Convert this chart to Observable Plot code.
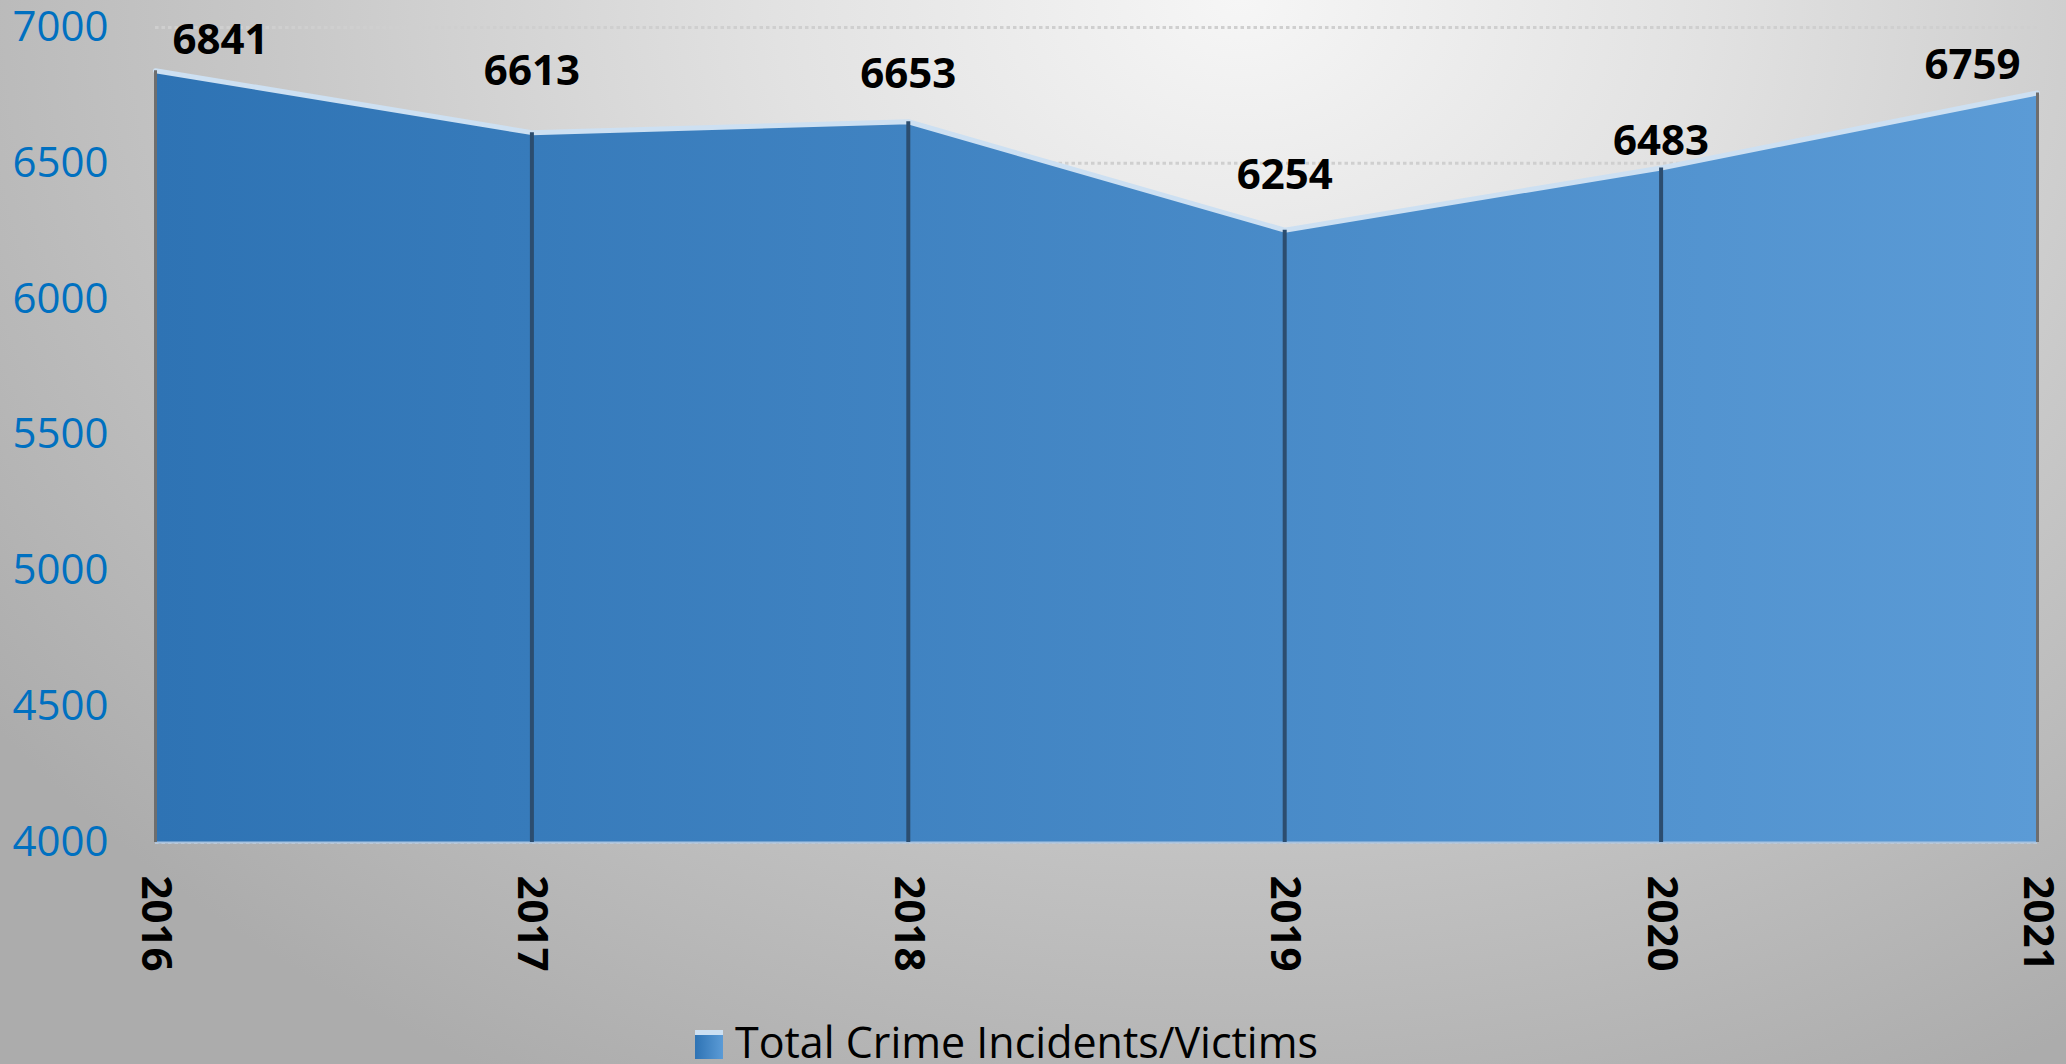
<!DOCTYPE html>
<html>
<head>
<meta charset="utf-8">
<script src="https://cdn.jsdelivr.net/npm/d3@7"></script>
<script src="https://cdn.jsdelivr.net/npm/@observablehq/plot@0.6"></script>
<style>
  html, body { margin: 0; padding: 0; overflow: hidden; }
  body {
    width: 2066px; height: 1064px; position: relative;
    background: radial-gradient(ellipse 75% 115% at 60% 0%, #f6f6f6 0%, #e2e2e2 30%, #c8c8c8 62%, #acacac 100%);
    font-family: "Open Sans", sans-serif;
  }
  #chart { position: absolute; left: 0; top: 0; }
  #legend { position: absolute; left: 0; top: 990px; }
</style>
</head>
<body>
<div id="chart"></div>
<svg id="legend" width="2066" height="74"></svg>
<script>
// ---- data ----
const years = [2016, 2017, 2018, 2019, 2020, 2021];
const incidents = [6841, 6613, 6653, 6254, 6483, 6759];
const yTicks = [4000, 4500, 5000, 5500, 6000, 6500, 7000];
const seriesName = "Total Crime Incidents/Victims";
// label lift above each point (px), as placed in the reference
const labelLift = [30, 61, 47, 55, 26, 27];

const data = years.map((year, i) => ({year, value: incidents[i], i}));

const defs = () => {
  const g = d3.create("svg:defs");
  const lg = g.append("linearGradient").attr("id", "areaGrad")
    .attr("x1", "0").attr("x2", "1").attr("y1", "0").attr("y2", "0");
  lg.append("stop").attr("offset", "0%").attr("stop-color", "#2E73B4");
  lg.append("stop").attr("offset", "100%").attr("stop-color", "#5B9BD6");
  return g.node();
};

const labelMarks = data.map((d, i) => Plot.text([d], {
  x: "year", y: "value", text: (d) => String(d.value),
  dy: -labelLift[i],
  dx: i === 0 ? 17 : i === data.length - 1 ? -17 : 0,
  textAnchor: i === 0 ? "start" : i === data.length - 1 ? "end" : "middle",
  fontSize: 42, fontWeight: "bold", fill: "#000",
  fontFamily: "Open Sans"
}));

const chart = Plot.plot({
  width: 2066,
  height: 1000,
  marginLeft: 155,
  marginRight: 29,
  marginTop: 27,
  marginBottom: 158,
  style: {background: "transparent", overflow: "visible", fontFamily: "Open Sans"},
  x: {type: "linear", domain: [2016, 2021]},
  y: {domain: [4000, 7000]},
  marks: [
    defs,
    Plot.ruleY(yTicks, {stroke: "#cfcfcf", strokeWidth: 3, strokeDasharray: "3.5,3"}),
    Plot.areaY(data, {x: "year", y1: 4000, y2: "value", fill: "url(#areaGrad)"}),
    Plot.ruleY([4000], {stroke: "#a9c3df", strokeWidth: 2}),
    Plot.line(data, {x: "year", y: "value", stroke: "#cde0f2", strokeWidth: 5}),
    Plot.ruleX(data, {
      x: "year", y1: 4000, y2: "value",
      stroke: (d) => (d.i === 0 || d.i === data.length - 1) ? "#6e6e6e" : "#2c4d6f",
      strokeWidth: (d) => (d.i === 0 || d.i === data.length - 1) ? 3 : 4
    }),
    Plot.axisY({
      ticks: yTicks, tickFormat: "d", tickSize: 0, tickPadding: 47,
      fontSize: 42, fill: "#0070C0", fontFamily: "Open Sans", label: null
    }),
    Plot.axisX({
      ticks: years, tickFormat: "d", tickSize: 0, tickPadding: 33, tickRotate: 90,
      fontSize: 42, fontWeight: "bold", fill: "#000", fontFamily: "Open Sans", label: null
    }),
    ...labelMarks
  ]
});
document.getElementById("chart").appendChild(chart);

// ---- legend ----
const leg = d3.select("#legend");
const lgd = leg.append("defs");
const sg = lgd.append("linearGradient").attr("id", "swatchGrad")
  .attr("x1", "0").attr("x2", "1").attr("y1", "0").attr("y2", "0");
sg.append("stop").attr("offset", "0%").attr("stop-color", "#2E73B4");
sg.append("stop").attr("offset", "100%").attr("stop-color", "#5B9BD6");
leg.append("rect").attr("x", 695).attr("y", 40).attr("width", 28).attr("height", 29)
  .attr("fill", "url(#swatchGrad)");
leg.append("rect").attr("x", 695).attr("y", 40).attr("width", 28).attr("height", 5)
  .attr("fill", "#cde0f2");
leg.append("text").attr("x", 735).attr("y", 68)
  .attr("font-family", "Open Sans").attr("font-size", 43).attr("fill", "#000")
  .attr("textLength", 583).attr("lengthAdjust", "spacingAndGlyphs")
  .text(seriesName);
</script>
</body>
</html>
